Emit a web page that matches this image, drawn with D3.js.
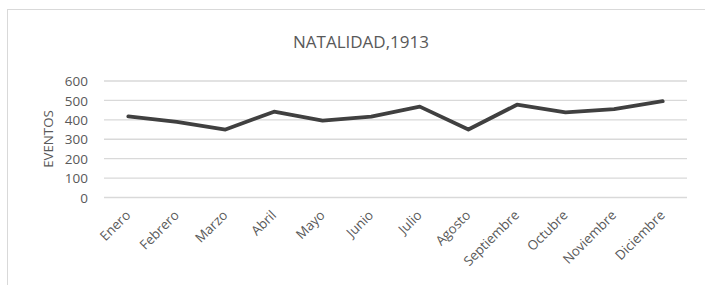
<!DOCTYPE html>
<html>
<head>
<meta charset="utf-8">
<script src="https://cdn.jsdelivr.net/npm/d3@7"></script>
<style>
  body { margin: 0; background: #fff; }
  svg text { font-family: "Open Sans", sans-serif; fill: #595959; }
</style>
</head>
<body>
<svg id="chart"></svg>
<script>
const months = ["Enero", "Febrero", "Marzo", "Abril", "Mayo", "Junio", "Julio",
                "Agosto", "Septiembre", "Octubre", "Noviembre", "Diciembre"];
const births = [418, 390, 350, 442, 396, 416, 468, 350, 478, 438, 455, 496];
const yTicks = [0, 100, 200, 300, 400, 500, 600];

const width = 705;
const height = 285;
const plotLeft = 104, plotRight = 687, plotTop = 81, plotBottom = 197.5;

const svg = d3.select("#chart")
              .attr("width", width)
              .attr("height", height);

// chart frame
svg.append("rect")
   .attr("x", 7.5).attr("y", 9.5)
   .attr("width", 760).attr("height", 320)
   .attr("fill", "none")
   .attr("stroke", "#d9d9d9");

const x = d3.scaleBand().domain(months).range([plotLeft, plotRight]);
const y = d3.scaleLinear().domain([0, 600]).range([plotBottom, plotTop]);

// gridlines
svg.append("g")
   .selectAll("line")
   .data(yTicks)
   .enter()
   .append("line")
   .attr("x1", plotLeft).attr("x2", plotRight)
   .attr("y1", d => y(d)).attr("y2", d => y(d))
   .attr("stroke", "#d9d9d9")
   .attr("stroke-width", 1.3);

const yAxis = d3.axisLeft(y).tickValues(yTicks).tickSize(0).tickPadding(0);
svg.append("g")
   .attr("transform", `translate(${plotLeft - 16}, 0)`)
   .call(yAxis)
   .call(g => g.select(".domain").remove())
   .selectAll("text")
   .attr("font-size", 13.5)
   .attr("dy", "0.35em")
   .style("font-family", "'Open Sans', sans-serif")
   .attr("fill", "#505050");

// x labels, rotated
svg.append("g")
   .selectAll("text")
   .data(months)
   .enter()
   .append("text")
   .attr("text-anchor", "end")
   .attr("font-size", 13.3)
   .attr("fill", "#505050")
   .attr("transform", d => `translate(${x(d) + x.bandwidth() / 2 + 3}, 216) rotate(-45)`)
   .text(d => d);

// line
const line = d3.line()
               .x((d, i) => x(months[i]) + x.bandwidth() / 2)
               .y(d => y(d));

svg.append("path")
   .datum(births)
   .attr("d", line)
   .attr("fill", "none")
   .attr("stroke", "#404040")
   .attr("stroke-width", 3.8)
   .attr("stroke-linejoin", "round")
   .attr("stroke-linecap", "round");

// title
svg.append("text")
   .attr("x", 361)
   .attr("y", 48)
   .attr("text-anchor", "middle")
   .attr("font-size", 17)
   .attr("fill", "#505050")
   .text("NATALIDAD,1913");

// axis title
svg.append("text")
   .attr("transform", "translate(53, 139) rotate(-90)")
   .attr("text-anchor", "middle")
   .attr("font-size", 13.3)
   .attr("fill", "#505050")
   .text("EVENTOS");
</script>
</body>
</html>
